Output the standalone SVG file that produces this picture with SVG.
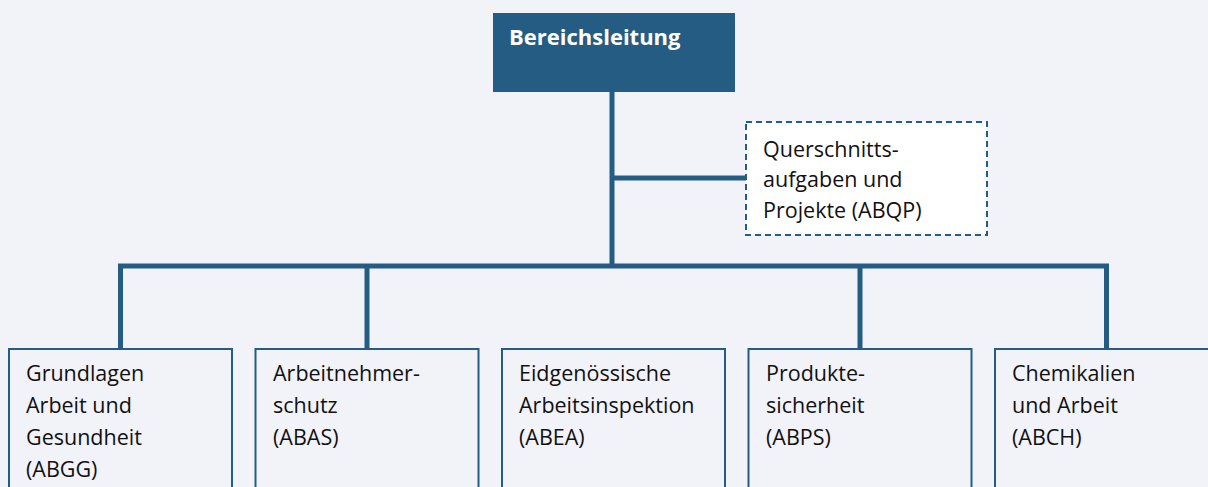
<svg xmlns="http://www.w3.org/2000/svg" width="1208" height="487" viewBox="0 0 1208 487">
<style>
.bg{fill:#f2f3f9}
.line{stroke:#255c83;stroke-width:5;fill:none}
.box{fill:#f2f3f9;stroke:#255c83;stroke-width:2}
.dbox{fill:#ffffff;stroke:#255c83;stroke-width:2;stroke-dasharray:6 4}
.t{font-family:"Open Sans","Noto Sans",sans-serif;font-size:21.5px;fill:#111111}
.h{font-family:"Open Sans","Noto Sans",sans-serif;font-size:22px;font-weight:bold;fill:#ffffff}
</style>
<rect class="bg" x="0" y="0" width="1208" height="487"/>
<g id="connectors">
<line class="line" x1="612" y1="92" x2="612" y2="266"/>
<line class="line" x1="612" y1="178" x2="746" y2="178"/>
<polyline class="line" points="120.5,349 120.5,266 1106.5,266 1106.5,349"/>
<line class="line" x1="367" y1="266" x2="367" y2="349"/>
<line class="line" x1="860" y1="266" x2="860" y2="349"/>
</g>
<g id="bereichsleitung">
<rect x="493" y="13" width="242" height="79" fill="#255c83"/>
<text class="h" x="509" y="45">Bereichsleitung</text>
</g>
<g id="abqp">
<rect class="dbox" x="746" y="122" width="241" height="113"/>
<text class="t" x="763" y="157">Querschnitts-</text>
<text class="t" x="763" y="187">aufgaben und</text>
<text class="t" x="763" y="218">Projekte (ABQP)</text>
</g>
<g id="abgg">
<rect class="box" x="9" y="349" width="223" height="150"/>
<text class="t" x="26" y="381">Grundlagen</text>
<text class="t" x="26" y="413">Arbeit und</text>
<text class="t" x="26" y="445">Gesundheit</text>
<text class="t" x="26" y="477">(ABGG)</text>
</g>
<g id="abas">
<rect class="box" x="255.5" y="349" width="223" height="150"/>
<text class="t" x="273" y="381">Arbeitnehmer-</text>
<text class="t" x="273" y="413">schutz</text>
<text class="t" x="273" y="445">(ABAS)</text>
</g>
<g id="abea">
<rect class="box" x="502" y="349" width="223" height="150"/>
<text class="t" x="519" y="381">Eidgenössische</text>
<text class="t" x="519" y="413">Arbeitsinspektion</text>
<text class="t" x="519" y="445">(ABEA)</text>
</g>
<g id="abps">
<rect class="box" x="748.5" y="349" width="223" height="150"/>
<text class="t" x="766" y="381">Produkte-</text>
<text class="t" x="766" y="413">sicherheit</text>
<text class="t" x="766" y="445">(ABPS)</text>
</g>
<g id="abch">
<rect class="box" x="995" y="349" width="223" height="150"/>
<text class="t" x="1012" y="381">Chemikalien</text>
<text class="t" x="1012" y="413">und Arbeit</text>
<text class="t" x="1012" y="445">(ABCH)</text>
</g>
</svg>
